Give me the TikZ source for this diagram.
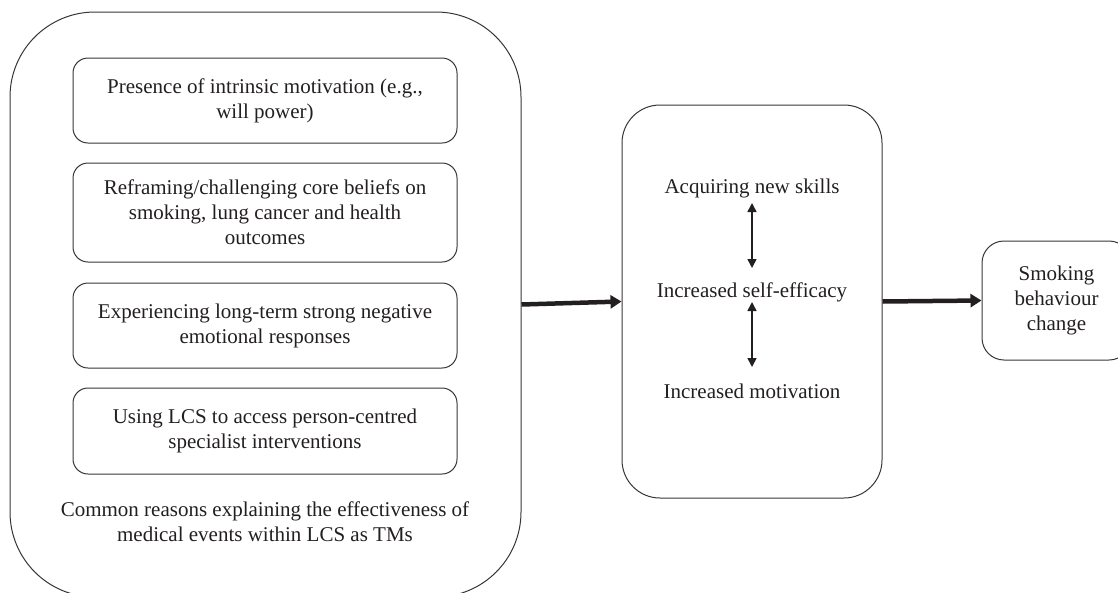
\documentclass[tikz,border=0pt]{standalone}
\usepackage{fontspec}
\setmainfont{Liberation Serif}
\usetikzlibrary{arrows.meta,calc}
\definecolor{ink}{HTML}{231F20}
\tikzset{
  txt/.style={font=\fontsize{21pt}{25pt}\selectfont, text=ink, align=center, inner sep=0pt},
  outline/.style={draw=ink!90, line width=1pt, inner sep=0pt},
  reason/.style={outline, txt, rounded corners=15pt, minimum width=384pt},
  bigarrow/.style={draw=ink, line width=4.5pt, -{Triangle[length=11pt,width=13pt]}},
  dblarrow/.style={draw=ink, line width=1.6pt, {Triangle[length=9pt,width=9pt]}-{Triangle[length=9pt,width=9pt]}}
}
\begin{document}
\begin{tikzpicture}[x=1pt,y=-1pt]
\useasboundingbox (0,0) rectangle (1118,592);
% large container
\node[outline, rounded corners=85pt, minimum width=511pt, minimum height=585pt] (big) at (265.5,304.5) {};
\node[reason, minimum height=85pt] (r1) at (265,100.5) {Presence of intrinsic motivation (e.g.,\\will power)};
\node[reason, minimum height=99pt] (r2) at (265,212.5) {Reframing/challenging core beliefs on\\smoking, lung cancer and health\\outcomes};
\node[reason, minimum height=85pt] (r3) at (265,325.5) {Experiencing long-term strong negative\\emotional responses};
\node[reason, minimum height=86pt] (r4) at (265,431) {Using LCS to access person-centred\\specialist interventions};
\node[txt] (cap) at (265,522) {Common reasons explaining the effectiveness of\\medical events within LCS as TMs};
% middle box
\node[outline, rounded corners=38pt, minimum width=260pt, minimum height=393pt] (mid) at (752,301.5) {};
\node[txt, anchor=base] (acq) at (752,193) {Acquiring new skills};
\node[txt, anchor=base] (self) at (752,297) {Increased self-efficacy};
\node[txt, anchor=base] (mot) at (752,398) {Increased motivation};
\draw[dblarrow] ($(acq.base)+(0,10)$) -- ($(self.base)+(0,-29)$);
\draw[dblarrow] ($(self.base)+(0,5)$) -- ($(mot.base)+(0,-31)$);
% right box
\node[outline, txt, rounded corners=22pt, minimum width=149pt, minimum height=119pt] (out) at (1056.5,300.5) {Smoking\\behaviour\\change};
% arrows
\draw[bigarrow] (big.east) -- (mid.west);
\draw[bigarrow] (mid.east) -- (out.west);
\end{tikzpicture}
\end{document}
